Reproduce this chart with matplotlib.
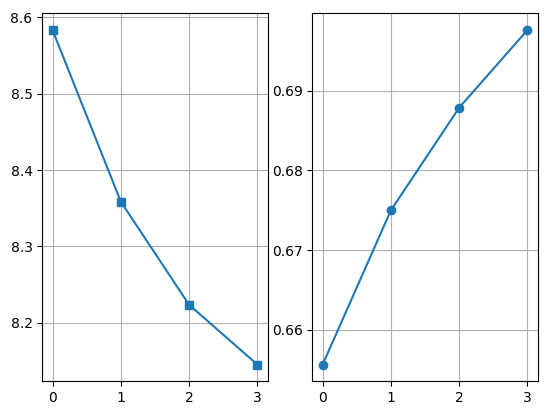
import numpy as np
import matplotlib
matplotlib.use("Agg")
import matplotlib.pyplot as plt

# ---------------------------------------------------------------- data
x_vals = [0, 1, 2, 3]
left_vals = [8.5835, 8.3586, 8.2235, 8.1451]
right_vals = [0.65563, 0.6750, 0.68788, 0.69763]

# ---------------------------------------------------------------- figure
W, H = 547, 415
fig = plt.figure(figsize=(W / 100, H / 100), dpi=100)

bottom = (H - 381.3) / H
height = 368.0 / H
ax1 = fig.add_axes([42.3 / W, bottom, 225.3 / W, height])
ax2 = fig.add_axes([312.4 / W, bottom, 225.3 / W, height])

ax1.plot(x_vals, left_vals, marker='s')
ax1.grid(True)
ax1.set_xticks(x_vals)

ax2.plot(x_vals, right_vals, marker='o')
ax2.grid(True)
ax2.set_xticks(x_vals)

fig.savefig("out.png", dpi=100)
